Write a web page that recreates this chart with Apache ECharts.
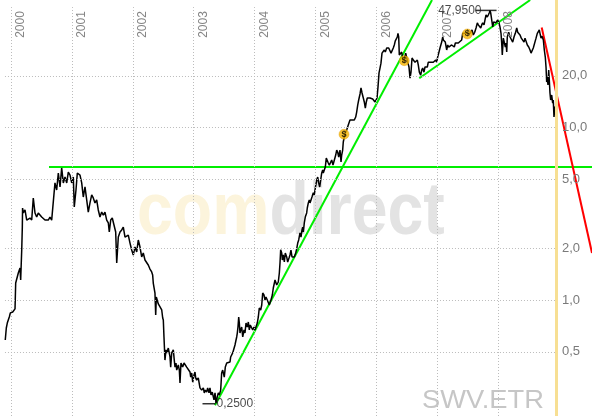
<!DOCTYPE html>
<html><head><meta charset="utf-8">
<script src="https://cdn.jsdelivr.net/npm/echarts@6/dist/echarts.min.js"></script>
<style>html,body{margin:0;padding:0;background:#fff}#c{width:592px;height:416px}</style>
</head><body><div id="c"></div>
<script>
// ---- data ----
const yearTicks = [2000, 2001, 2002, 2003, 2004, 2005, 2006, 2007, 2008];
const yearLabels = ['2000', '2001', '2002', '2003', '2004', '2005', '2006', '2007', '2008'];
const priceTicks = [0.5, 1, 2, 5, 10, 20];
const priceTickLabels = ['0,5', '1,0', '2,0', '5,0', '10,0', '20,0'];

// [fractional year, price]
const price = [
[1999.906,0.586],[1999.923,0.688],[1999.939,0.735],[1999.972,0.797],[1999.989,0.841],[2000.028,0.852],[2000.049,0.875],[2000.066,0.888],[2000.077,1.255],[2000.094,1.272],
[2000.120,1.434],[2000.148,1.533],[2000.159,1.306],[2000.176,1.951],[2000.186,2.653],[2000.190,3.42],[2000.202,3.20],[2000.230,3.33],[2000.258,2.91],[2000.284,2.93],
[2000.312,2.99],[2000.340,2.91],[2000.366,3.91],[2000.394,3.20],[2000.422,3.03],[2000.448,3.20],[2000.476,3.24],[2000.504,3.03],[2000.530,2.99],[2000.558,2.91],
[2000.586,2.836],[2000.612,2.91],[2000.640,3.03],[2000.668,2.91],[2000.695,2.874],[2000.722,4.78],[2000.750,4.35],[2000.777,5.46],[2000.805,4.53],[2000.832,5.84],
[2000.859,4.78],[2000.887,5.17],[2000.915,4.78],[2000.941,5.53],[2000.969,5.31],[2000.997,4.78],[2001.023,5.17],[2001.039,3.47],[2001.067,4.35],[2001.089,5.46],
[2001.133,5.31],[2001.161,4.78],[2001.187,3.96],[2001.215,4.53],[2001.243,3.81],[2001.269,3.24],[2001.297,3.66],[2001.325,4.07],[2001.351,3.91],[2001.379,3.66],
[2001.407,3.81],[2001.433,3.33],[2001.461,3.03],[2001.489,3.24],[2001.516,3.11],[2001.543,3.24],[2001.571,2.91],[2001.598,2.80],[2001.614,2.48],[2001.637,2.91],
[2001.663,2.99],[2001.691,2.725],[2001.719,2.48],[2001.736,1.64],[2001.762,2.32],[2001.790,2.48],[2001.818,2.55],[2001.844,2.65],[2001.872,2.32],[2001.900,2.29],
[2001.926,2.38],[2001.954,2.14],[2001.982,1.95],[2002.008,1.825],[2002.036,2.03],[2002.064,1.90],[2002.090,2.23],[2002.118,2.03],[2002.146,1.777],[2002.172,1.875],
[2002.200,1.707],[2002.228,1.662],[2002.254,1.597],[2002.282,1.513],[2002.310,1.454],[2002.326,1.397],[2002.336,1.255],[2002.364,1.098],[2002.376,0.818],[2002.386,1.04],
[2002.419,0.948],[2002.447,0.923],[2002.475,0.875],[2002.491,0.786],
[2002.501,0.765],[2002.512,0.610],[2002.528,0.448],[2002.545,0.513],[2002.557,0.493],[2002.583,0.526],[2002.611,0.467],[2002.622,0.408],[2002.639,0.493],[2002.665,0.513],
[2002.681,0.448],[2002.693,0.408],[2002.709,0.431],[2002.721,0.392],[2002.747,0.420],[2002.764,0.392],[2002.775,0.330],[2002.791,0.431],[2002.819,0.408],[2002.841,0.431],
[2002.857,0.420],[2002.885,0.408],[2002.911,0.403],[2002.939,0.382],[2002.951,0.357],[2002.967,0.377],[2002.984,0.334],[2003.005,0.367],[2003.021,0.382],[2003.033,0.353],
[2003.049,0.343],[2003.075,0.353],[2003.103,0.309],[2003.131,0.300],[2003.158,0.309],[2003.174,0.289],[2003.190,0.300],[2003.213,0.292],[2003.229,0.309],[2003.251,0.289],
[2003.267,0.309],[2003.284,0.281],[2003.305,0.292],[2003.322,0.274],[2003.333,0.263],[2003.350,0.289],[2003.366,0.252],[2003.387,0.274],[2003.404,0.289],[2003.420,0.281],
[2003.443,0.300],[2003.459,0.377],[2003.476,0.392],[2003.486,0.382],[2003.502,0.357],[2003.519,0.408],[2003.542,0.431],[2003.568,0.420],[2003.596,0.437],[2003.607,0.467],
[2003.624,0.479],[2003.640,0.493],[2003.662,0.499],[2003.678,0.548],[2003.695,0.586],[2003.706,0.610],[2003.716,0.643],[2003.727,0.697],[2003.739,0.797],[2003.749,0.735],
[2003.760,0.643],[2003.772,0.670],[2003.788,0.697],[2003.805,0.610],[2003.826,0.670],[2003.842,0.643],[2003.859,0.735],[2003.880,0.697],[2003.897,0.745],[2003.913,0.670],
[2003.929,0.716],[2003.952,0.720],[2003.969,0.670],[2003.990,0.697],[2004.006,0.670],[2004.023,0.688],[2004.044,0.735],[2004.061,0.797],[2004.077,0.899],[2004.100,0.875],
[2004.117,0.935],[2004.133,1.098],[2004.154,1.069],[2004.171,1.0],[2004.187,1.04],[2004.208,1.0],[2004.225,0.974],[2004.241,0.935],
[2004.269,1.0],[2004.291,1.069],[2004.307,1.174],[2004.335,1.306],[2004.363,1.222],[2004.389,1.272],[2004.406,1.434],[2004.417,1.641],[2004.428,1.957],[2004.445,1.875],
[2004.455,1.707],[2004.471,1.825],[2004.488,1.662],[2004.504,1.875],[2004.527,1.777],[2004.543,1.662],[2004.565,1.752],[2004.581,1.825],[2004.597,1.95],[2004.614,1.777],
[2004.635,1.752],[2004.652,1.777],[2004.675,1.875],[2004.691,1.98],[2004.708,2.14],[2004.724,2.23],[2004.745,2.45],[2004.762,2.32],[2004.778,2.55],[2004.790,2.65],
[2004.800,2.48],[2004.816,2.80],[2004.832,3.03],[2004.855,3.20],[2004.865,3.42],[2004.882,3.66],[2004.898,3.81],[2004.910,3.66],[2004.926,3.71],[2004.942,3.96],
[2004.964,4.19],[2004.980,4.07],[2004.997,4.47],[2005.020,4.97],[2005.036,5.17],[2005.052,4.78],[2005.069,4.53],[2005.085,4.97],[2005.102,5.46],[2005.118,5.68],
[2005.128,5.46],[2005.144,5.53],[2005.161,5.91],[2005.177,6.66],[2005.194,6.49],[2005.210,6.24],[2005.227,6.07],[2005.243,6.24],[2005.266,6.49],[2005.287,6.07],
[2005.309,6.07],[2005.332,6.94],[2005.348,7.42],[2005.364,7.22],[2005.381,6.76],[2005.402,7.42],[2005.419,6.32],[2005.430,6.94],[2005.446,7.42],[2005.456,8.26],
[2005.473,8.83],[2005.489,9.32],[2005.512,9.70],[2005.538,10.37],[2005.566,11.08],[2005.583,11.38],[2005.599,11.08],[2005.621,10.93],[2005.637,11.08],[2005.660,11.53],
[2005.676,12.33],[2005.693,13.54],[2005.709,14.48],[2005.731,15.69],[2005.747,17.0],[2005.764,15.9],[2005.785,14.87],[2005.801,14.1],[2005.818,13.0],[2005.834,14.1],
[2005.850,14.87],[2005.873,14.48],[2005.895,14.87],[2005.916,14.48],[2005.939,14.67],[2005.960,14.48],[2005.977,14.1],[2005.993,13.9],[2006.010,14.87],[2006.026,17.2],
[2006.043,20.8],[2006.059,22.2],[2006.075,23.7],[2006.092,27.1],[2006.113,27.5],[2006.129,28.25],[2006.146,27.5],[2006.169,29.0],[2006.185,28.25],[2006.202,29.0],
[2006.223,28.25],[2006.240,27.1],[2006.256,27.9],[2006.277,29.0],[2006.294,30.2],[2006.310,31.9],[2006.333,32.3],[2006.343,33.6],[2006.354,35.3],[2006.366,33.6],
[2006.376,26.4],
[2006.387,27.1],[2006.415,27.5],[2006.431,25.4],[2006.441,23.7],[2006.458,24.0],[2006.481,27.1],[2006.497,26.4],[2006.514,24.0],[2006.535,22.5],[2006.552,19.4],
[2006.568,21.0],[2006.585,25.4],[2006.606,24.7],[2006.634,24.0],[2006.650,23.7],[2006.672,24.7],[2006.688,23.1],[2006.705,21.0],[2006.727,20.2],[2006.744,21.6],
[2006.760,22.2],[2006.781,21.0],[2006.798,22.5],[2006.814,23.1],[2006.836,22.5],[2006.852,24.0],[2006.880,23.7],[2006.896,24.0],[2006.913,23.7],[2006.934,24.0],
[2006.957,24.3],[2006.973,24.7],[2006.990,24.0],[2007.006,25.7],[2007.023,27.1],[2007.044,29.0],[2007.072,31.4],[2007.089,33.6],[2007.099,32.3],[2007.115,33.1],
[2007.131,31.4],[2007.154,28.25],[2007.171,30.2],[2007.187,29.4],[2007.208,29.0],[2007.236,30.2],[2007.263,31.0],[2007.279,29.4],[2007.296,31.0],[2007.318,30.8],
[2007.345,31.0],[2007.373,31.4],[2007.400,32.3],[2007.417,35.3],[2007.438,35.8],[2007.460,35.3],[2007.483,34.5],[2007.504,35.3],[2007.521,35.8],[2007.537,35.3],
[2007.553,35.8],[2007.570,36.9],[2007.591,34.5],[2007.614,35.8],[2007.636,37.9],[2007.657,40.6],[2007.673,39.5],[2007.690,38.5],[2007.713,37.9],[2007.729,39.5],
[2007.745,40.6],[2007.767,39.5],[2007.783,42.2],[2007.800,45.1],[2007.821,43.9],[2007.837,45.1],[2007.854,46.5],[2007.865,47.95],[2007.877,46.3],[2007.894,45.1],
[2007.910,38.5],[2007.926,41.1],[2007.943,42.2],[2007.959,40.6],[2007.975,41.1],[2007.992,42.2],[2008.013,40.6],[2008.029,38.5],[2008.046,35.3],[2008.057,31.0],
[2008.067,26.4],[2008.084,33.1],[2008.100,33.6],[2008.117,29.4],[2008.128,31.0],[2008.140,27.5],[2008.149,33.6],[2008.172,35.8],[2008.194,33.6],[2008.215,33.1],
[2008.238,31.4],[2008.259,33.6],[2008.281,35.3],[2008.304,37.9],[2008.320,35.8],[2008.337,35.3],[2008.358,34.5],[2008.379,33.1],[2008.402,33.6],[2008.424,31.4],
[2008.440,33.1],[2008.457,32.3],[2008.478,30.2],[2008.501,29.4],[2008.522,28.25],[2008.539,27.1],[2008.555,27.5],[2008.576,29.0],[2008.599,29.4],[2008.621,33.1],
[2008.642,35.3],[2008.659,35.8],[2008.675,36.9],[2008.686,35.3],[2008.703,33.1],[2008.719,34.0],[2008.741,32.3],[2008.757,28.25],[2008.773,25.7],[2008.785,22.5],
[2008.796,18.4],[2008.806,19.7],[2008.817,17.7],[2008.829,21.6],[2008.839,18.9],[2008.850,15.9],[2008.861,14.48],[2008.878,15.48],[2008.894,13.9],[2008.904,14.48],
[2008.916,11.53],[2008.927,12.67],[2008.937,13.3],[2008.948,12.2],[2008.960,13.54],[2008.970,13.0]
];

const supportLevel = [[2000.624, 5.92], [2009.54, 5.92]];
const trendUp1 = [[2003.35, 0.245], [2006.913, 55.1]];
const trendUp2 = [[2006.704, 19.35], [2008.525, 55.1]];
const trendDown = [[2008.714, 38.2], [2009.54, 1.875]];
const dividends = [[2005.468, 9.16], [2006.458, 24.5], [2007.493, 35.0]];
const highMark = [2007.80, 47.95];
const highLabel = '47,9500';
const lowMark = [2003.251, 0.25];
const lowLabel = '0,2500';
const todayMark = 2008.957;

// ---- layout ----
const X_MIN = 1999.8194, X_MAX = 2009.54;
const Y_MIN = 0.2122, Y_MAX = 55.1;
const GRID_X0 = 1999.901, GRID_X1 = 2008.933, VLINE_TOP = 50.1;
const FONT = 'Liberation Sans, Arial, sans-serif';

const chart = echarts.init(document.getElementById('c'), null, {renderer: 'canvas'});

const gridLineStyle = {color: '#bcbcbc', type: [1, 2], width: 1};
const markData = [];
yearTicks.forEach((y, i) => {
  markData.push([
    {name: yearLabels[i], coord: [y, Y_MIN], lineStyle: gridLineStyle,
     label: {show: true, position: 'insideEndBottom', formatter: '{b}', color: '#858585',
             fontSize: 12, fontFamily: FONT, distance: 4}},
    {coord: [y, VLINE_TOP]}
  ]);
});
priceTicks.forEach((v, i) => {
  markData.push([
    {name: priceTickLabels[i], coord: [GRID_X0, v], lineStyle: gridLineStyle,
     label: {show: true, position: 'end', formatter: '{b}', color: '#7a7a7a',
             fontSize: 13, fontFamily: FONT, distance: 7}},
    {coord: [GRID_X1, v]}
  ]);
});
markData.push([
  {coord: [todayMark, Y_MIN], lineStyle: {color: '#f7df93', width: 3, type: 'solid'}, label: {show: false}},
  {coord: [todayMark, Y_MAX]}
]);

const option = {
  animation: false,
  backgroundColor: '#fff',
  grid: {left: 0, right: 0, top: 0, bottom: 0},
  xAxis: {type: 'value', min: X_MIN, max: X_MAX, show: false},
  yAxis: {type: 'log', logBase: 10, min: Y_MIN, max: Y_MAX, show: false},
  graphic: [
    {type: 'text', x: 137, y: 214, scaleX: 0.87, z: 0, silent: true,
     style: {text: '{a|com}{b|direct}', font: 'bold 74px ' + FONT, verticalAlign: 'middle',
             rich: {a: {fill: '#fcf4dc', font: 'bold 74px ' + FONT},
                    b: {fill: '#e3e3e3', font: 'bold 74px ' + FONT}}}},
    {type: 'text', x: 422, y: 401, scaleX: 1.05, z: 0, silent: true,
     style: {text: 'SWV.ETR', font: '26px ' + FONT, fill: '#c6c6c6', verticalAlign: 'middle'}}
  ],
  series: [
    {type: 'line', data: [], silent: true, z: 1,
     markLine: {symbol: 'none', silent: true, animation: false, data: markData}},
    {type: 'line', data: supportLevel, showSymbol: false, silent: true, z: 3,
     lineStyle: {color: '#00ee00', width: 2}},
    {type: 'line', data: trendUp1, showSymbol: false, silent: true, z: 3,
     lineStyle: {color: '#00ee00', width: 2}},
    {type: 'line', data: trendUp2, showSymbol: false, silent: true, z: 3,
     lineStyle: {color: '#00ee00', width: 2}},
    {type: 'line', data: trendDown, showSymbol: false, silent: true, z: 3,
     lineStyle: {color: '#ff0000', width: 2}},
    {type: 'line', data: price, showSymbol: false, silent: true, z: 4,
     lineStyle: {color: '#000', width: 1.5}},
    {type: 'scatter', data: dividends, symbol: 'circle', symbolSize: 10, silent: true, z: 5,
     itemStyle: {color: '#f6b400', borderColor: '#e09a00', borderWidth: 0.5},
     label: {show: true, position: 'inside', formatter: '$', color: '#000', fontSize: 9, fontWeight: 'bold', fontFamily: FONT}},
    {type: 'scatter', data: [highMark], symbol: 'rect', symbolSize: [21, 1.5], silent: true, z: 5,
     itemStyle: {color: '#000'},
     label: {show: true, position: 'left', distance: -6, formatter: highLabel, color: '#1a1a1a', fontSize: 12, fontFamily: FONT}},
    {type: 'scatter', data: [lowMark], symbol: 'rect', symbolSize: [13, 1.5], silent: true, z: 5,
     itemStyle: {color: '#000'},
     label: {show: true, position: 'right', distance: 1, formatter: lowLabel, color: '#1a1a1a', fontSize: 12, fontFamily: FONT}}
  ]
};
chart.setOption(option);
</script>
</body></html>
